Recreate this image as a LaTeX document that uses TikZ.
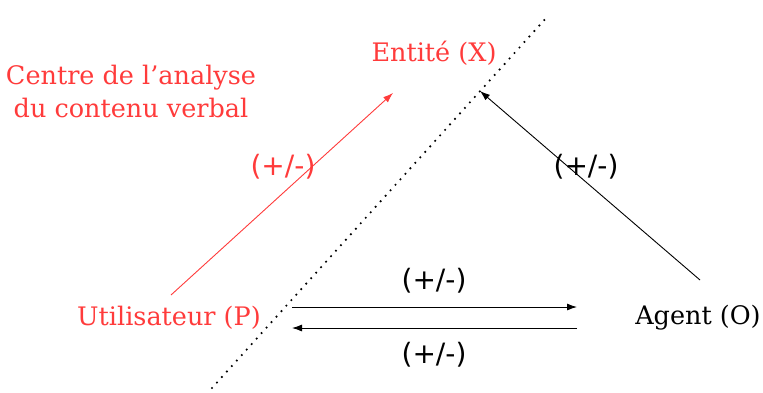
\documentclass[tikz,border=0pt]{standalone}
\usepackage{fontspec}
\setmainfont{DejaVu Serif}
\newfontfamily\labfont{DejaVu Sans}
\usetikzlibrary{arrows.meta}
\definecolor{myred}{RGB}{255,59,59}
\tikzset{
  lbl/.style={font=\fontsize{25.5}{33}\selectfont, inner sep=0pt, align=center},
  sgn/.style={font=\labfont\fontsize{28}{30}\selectfont, inner sep=0pt},
  conn/.style={line width=0.9pt, -{Latex[length=10pt,width=7pt]}},
  sep/.style={line width=2.4pt, line cap=round, dash pattern=on 0pt off 7.4pt}
}
\begin{document}
\begin{tikzpicture}[x=1pt,y=-1pt]
\useasboundingbox (0,0) rectangle (763,392);
% separating dotted line
\coordinate (s1) at (212,388);
\coordinate (s2) at (547,17);
\draw[sep] (s1) -- (s2);
% labels
\node[lbl, text=myred] (centre) at (131,91) {Centre de l’analyse\\du contenu verbal};
\node[lbl, text=myred] (entite) at (434,53) {Entité (X)};
\node[lbl, text=myred] (user) at (169,318) {Utilisateur (P)};
\node[lbl] (agent) at (698,318) {Agent (O)};
% connector endpoints
\coordinate (r0) at (171,295);
\coordinate (r1) at (393,93);
\coordinate (b0) at (700,280);
\coordinate (b1) at (480,91);
\coordinate (h0) at (292,307);
\coordinate (h1) at (577,307);
\coordinate (g0) at (577,328);
\coordinate (g1) at (292,328);
\draw[conn, myred] (r0) -- (r1);
\draw[conn] (b0) -- (b1);
\draw[conn] (h0) -- (h1);
\draw[conn] (g0) -- (g1);
% signs
\node[sgn, text=myred] (s_r) at (283,167) {(+/-)};
\node[sgn] (s_b) at (586,167) {(+/-)};
\node[sgn] (s_t) at (434,281) {(+/-)};
\node[sgn] (s_d) at (434,355) {(+/-)};
\end{tikzpicture}
\end{document}
